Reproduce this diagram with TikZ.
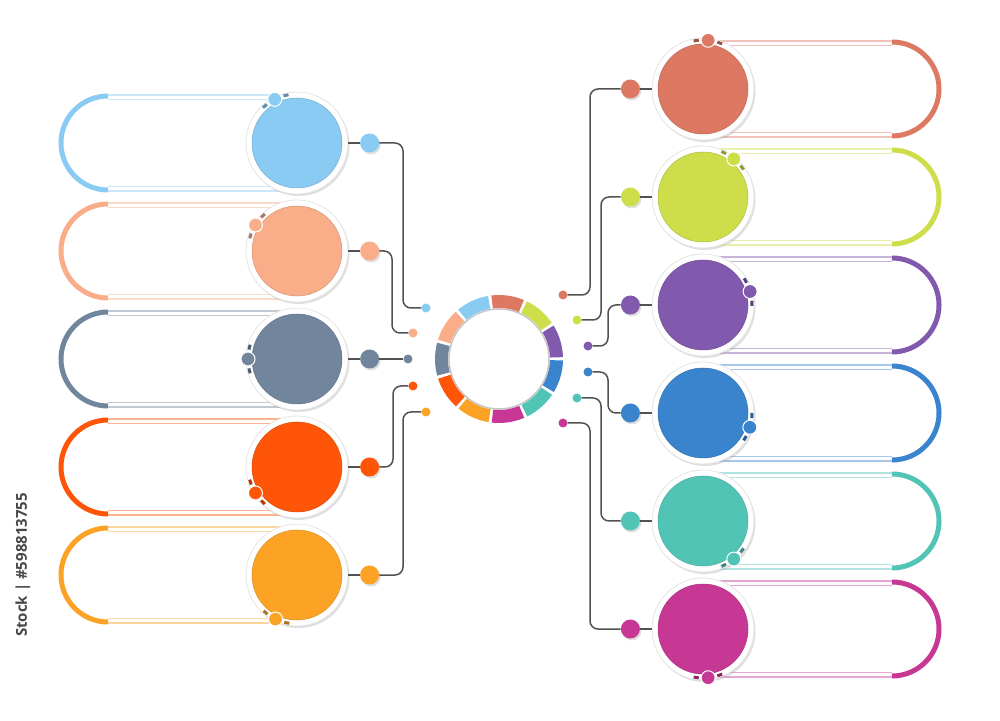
\documentclass[tikz,border=0pt]{standalone}
\usepackage{fontspec}
\usepackage{tikz}
\usetikzlibrary{calc}
\usetikzlibrary{positioning}
\usetikzlibrary{shadows}

\newfontfamily\stampfont{Open Sans}

\definecolor{skyb}{RGB}{138,203,243}
\definecolor{peach}{RGB}{249,173,137}
\definecolor{slate}{RGB}{113,134,157}
\definecolor{flame}{RGB}{255,85,8}
\definecolor{amber}{RGB}{252,163,38}
\definecolor{salmon}{RGB}{221,120,99}
\definecolor{lime}{RGB}{205,222,74}
\definecolor{grape}{RGB}{129,89,173}
\definecolor{ocean}{RGB}{58,131,205}
\definecolor{mint}{RGB}{82,196,182}
\definecolor{berry}{RGB}{199,55,148}

\tikzset{
  softshadow/.style={drop shadow={shadow xshift=1.5pt, shadow yshift=-2pt, fill=black!35, opacity=0.35}},
  itemring/.style={circle, fill=white, draw=black!10, line width=0.8pt, minimum size=102pt, inner sep=0pt, softshadow},
  hub/.style={circle, fill=white, draw=black!22, line width=1.5pt, minimum size=100pt, inner sep=0pt},
  bigdot/.style={circle, fill=#1, minimum size=19pt, inner sep=0pt, softshadow},
  enddot/.style={circle, fill=#1, minimum size=9pt, inner sep=0pt},
  conn/.style={draw=black!68, line width=1.5pt, rounded corners=8pt},
  pale/.style={#1!45, line width=1.3pt},
  band/.style={#1, line width=5pt},
}

\begin{document}
\begin{tikzpicture}[x=1pt,y=1pt]
  \fill[white] (0,0) rectangle (1000,720);
  \useasboundingbox (0,0) rectangle (1000,720);

  % centre ring
  \node[hub] (hub) at (499,361) {};
  \begin{scope}[shift={(hub)}]
    \foreach \col [count=\k] in {salmon,lime,grape,ocean,mint,berry,amber,flame,slate,peach,skyb} {
      \pgfmathsetmacro\a{82-(\k-1)*360/11}
      \fill[\col] (\a+14.9:64) arc (\a+14.9:\a-14.9:64) -- (\a-14.9:51) arc (\a-14.9:\a+14.9:51) -- cycle;
    }
  \end{scope}

  % left items
  \foreach \i/\col/\y/\ka in {1/skyb/577/117, 2/peach/469/148, 3/slate/361/180, 4/flame/253/212, 5/amber/145/244} {
    \draw[pale=\col] (108,\y+48) -- (297,\y+48) (108,\y+43.5) -- (297,\y+43.5)
                     (108,\y-43.5) -- (297,\y-43.5) (108,\y-48) -- (297,\y-48);
    \draw[band=\col] (108,\y+47) arc (90:270:47);
    \node[itemring] (L\i) at (297,\y) {};
    \fill[\col, draw=\col!85!black, line width=0.5pt] (L\i) circle (45);
    \draw[\col!70!black, line width=3pt] (L\i) ++(\ka+11:49) arc (\ka+11:\ka+17:49)
                                        (L\i) ++(\ka-11:49) arc (\ka-11:\ka-17:49);
    \filldraw[fill=\col, draw=white, line width=1pt] (L\i) ++(\ka:49) circle (7);
    \node[bigdot=\col, right=11.5pt of L\i] (Ld\i) {};
    \draw[conn] (L\i) -- (Ld\i);
  }

  % right items
  \foreach \i/\col/\y/\ka in {1/salmon/631/84, 2/lime/523/51, 3/grape/415/16, 4/ocean/307/-17, 5/mint/199/-51, 6/berry/91/-84} {
    \draw[pale=\col] (703,\y+48) -- (892,\y+48) (703,\y+43.5) -- (892,\y+43.5)
                     (703,\y-43.5) -- (892,\y-43.5) (703,\y-48) -- (892,\y-48);
    \draw[band=\col] (892,\y+47) arc (90:-90:47);
    \node[itemring] (R\i) at (703,\y) {};
    \fill[\col, draw=\col!85!black, line width=0.5pt] (R\i) circle (45);
    \draw[\col!70!black, line width=3pt] (R\i) ++(\ka+11:49) arc (\ka+11:\ka+17:49)
                                        (R\i) ++(\ka-11:49) arc (\ka-11:\ka-17:49);
    \filldraw[fill=\col, draw=white, line width=1pt] (R\i) ++(\ka:49) circle (7);
    \node[bigdot=\col, left=11.5pt of R\i] (Rd\i) {};
    \draw[conn] (R\i) -- (Rd\i);
  }

  % connectors to the ring
  \foreach \i/\col/\vx/\ex/\ey in {1/skyb/403/426/412, 2/peach/392/413/387, 4/flame/393/413/334, 5/amber/403/426/308} {
    \node[enddot=\col] (Le\i) at (\ex,\ey) {};
    \draw[conn] (Ld\i) -| (\vx,\ey) -- (Le\i);
  }
  \node[enddot=slate] (Le3) at (408,361) {};
  \draw[conn] (Ld3) -- (Le3);

  \foreach \i/\col/\vx/\ex/\ey in {1/salmon/590/563/425, 2/lime/601/577/400, 3/grape/608/588/374, 4/ocean/608/588/348, 5/mint/601/577/322, 6/berry/590/563/297} {
    \node[enddot=\col] (Re\i) at (\ex,\ey) {};
    \draw[conn] (Rd\i) -| (\vx,\ey) -- (Re\i);
  }

  \node[rotate=90, text=black!72, font=\stampfont\bfseries\fontsize{15}{18}\selectfont] (stamp) at (23,155) {Stock | \#598813755};
\end{tikzpicture}
\end{document}
